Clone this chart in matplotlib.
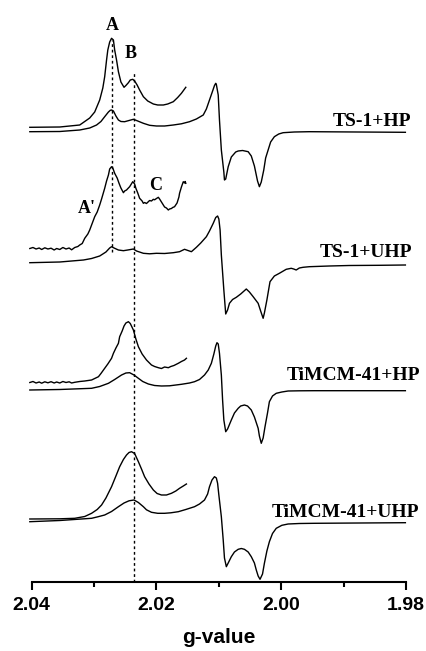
import matplotlib
matplotlib.use("Agg")
import matplotlib.pyplot as plt

# ---------------- data: g-values and signal (arb. units) ----------------
# TS-1 + HP
ts1_hp_g = [2.0403, 2.0355, 2.0323, 2.0307, 2.0296, 2.0289, 2.0283, 2.0277, 2.0274, 2.0272,
            2.0269, 2.0265, 2.0261, 2.0257, 2.0251, 2.0244, 2.0237, 2.0232, 2.0221, 2.0211,
            2.0200, 2.0187, 2.0173, 2.0160, 2.0147, 2.0136, 2.0125, 2.0120, 2.0115, 2.0110,
            2.0107, 2.0105, 2.0104, 2.0101, 2.0099, 2.0096, 2.0092, 2.0091, 2.0089, 2.0085,
            2.0080, 2.0073, 2.0069, 2.0062, 2.0053, 2.0048, 2.0043, 2.0038, 2.0035, 2.0032,
            2.0028, 2.0025, 2.0021, 2.0017, 2.0011, 2.0004, 1.9997, 1.9979, 1.9955, 1.9801]
ts1_hp_i = [0.3, 0.5, 2, 4, 7, 10.5, 15.3, 20, 21.7, 22,
            21, 16, 12, 10.5, 10.3, 11.5, 12.7, 11.5, 8.7, 6.7,
            6, 6, 7, 8.2, 10.3, 13, 17, 23, 32, 41,
            46.5, 48.7, 47.5, 37, 12, -18, -40, -48, -47, -34.7,
            -25, -20, -19, -18.5, -19.7, -24, -34, -49, -54.7, -50,
            -38, -26, -18, -10, -4.7, -2, -0.7, 0, 0.3, -0.3]
ts1_hp_zoom_g = [2.0403, 2.0355, 2.0323, 2.0307, 2.0299, 2.0291, 2.0286, 2.0283, 2.0280, 2.0278,
                 2.0275, 2.0272, 2.0269, 2.0267, 2.0264, 2.0261, 2.0257, 2.0252, 2.0249, 2.0245,
                 2.0242, 2.0238, 2.0235, 2.0231, 2.0227, 2.0221, 2.0214, 2.0205, 2.0198, 2.0189,
                 2.0182, 2.0173, 2.0166, 2.0160, 2.0153]
ts1_hp_zoom_i = [4.7, 5, 7, 14, 20, 32, 44, 55.3, 72, 82,
                 90, 93.7, 92, 82, 72, 60.3, 50, 44.7, 46.5, 49.3,
                 52, 52.7, 51, 47, 42, 35.3, 31, 28, 27, 27,
                 28, 30.3, 34.5, 38.7, 44.7]

# TS-1 + UHP
ts1_uhp_g = [2.0403, 2.0355, 2.0317, 2.0304, 2.0291, 2.0281, 2.0275, 2.0272, 2.0268, 2.0261,
             2.0253, 2.0246, 2.0237, 2.0232, 2.0221, 2.0211, 2.0200, 2.0187, 2.0173, 2.0163,
             2.0155, 2.0144, 2.0136, 2.0129, 2.0120, 2.0115, 2.0109, 2.0105, 2.0102, 2.0100,
             2.0098, 2.0096, 2.0092, 2.0089, 2.0086, 2.0083, 2.0078, 2.0072, 2.0065, 2.0056,
             2.0051, 2.0045, 2.0041, 2.0037, 2.0033, 2.0029, 2.0027, 2.0023, 2.0020, 2.0018,
             2.0011, 2.0003, 1.9992, 1.9984, 1.9980, 1.9976, 1.9971, 1.9965, 1.9955, 1.9923,
             1.9891, 1.9843, 1.9801]
ts1_uhp_i = [2.3, 3, 5, 6.5, 9, 13, 17, 18.3, 17, 15,
             14.3, 15, 16, 14, 11.7, 11.2, 11.7, 11.5, 12.3, 13.3,
             15.7, 13.3, 17.7, 22, 28.3, 34, 41.7, 47.5, 49, 46,
             35, 10, -25, -49, -45, -38.3, -34.5, -32.3, -29, -24,
             -27, -31.7, -35, -38.3, -46, -53.3, -48, -35, -24, -16.7,
             -11, -8.3, -4.3, -3.3, -4, -5, -3, -2.3, -1.7, -1,
             -0.5, -0.3, 0]
ts1_uhp_zoom_g = [2.0403, 2.0398, 2.0393, 2.0388, 2.0384, 2.0379, 2.0374, 2.0369, 2.0364, 2.0360,
                  2.0355, 2.0350, 2.0345, 2.0340, 2.0336, 2.0331, 2.0326, 2.0323, 2.0319, 2.0315,
                  2.0310, 2.0307, 2.0304, 2.0299, 2.0295, 2.0291, 2.0288, 2.0283, 2.0280, 2.0277,
                  2.0275, 2.0272, 2.0270, 2.0267, 2.0263, 2.0260, 2.0257, 2.0253, 2.0251, 2.0248,
                  2.0245, 2.0243, 2.0238, 2.0235, 2.0233, 2.0230, 2.0227, 2.0223, 2.0221, 2.0219,
                  2.0216, 2.0213, 2.0211, 2.0208, 2.0205, 2.0203, 2.0200, 2.0197, 2.0195, 2.0192,
                  2.0189, 2.0187, 2.0184, 2.0181, 2.0179, 2.0176, 2.0174, 2.0171, 2.0167, 2.0164,
                  2.0163, 2.0160, 2.0157, 2.0155, 2.0154, 2.0153]
ts1_uhp_zoom_i = [16.5, 17.5, 16, 17, 15.5, 17.2, 16, 16.8, 15, 16.5,
                  15.5, 17.5, 16, 17, 15.2, 17.5, 18.5, 20, 21.5, 26.7,
                  31, 35, 40, 48.3, 53, 60, 66, 76.7, 84, 90,
                  96, 98.3, 97, 91.7, 87, 81.7, 77, 72.3, 74, 75,
                  77, 78.3, 83.3, 81, 76.7, 72, 66.7, 64, 61.7, 62.5,
                  61.5, 63.3, 64.5, 64, 65.7, 65.2, 66.5, 67.7, 66, 63,
                  60, 58, 57, 55, 56, 56.5, 57.5, 58.3, 62, 68,
                  71.7, 78, 83.3, 82, 83.5, 81.7]

# TiMCM-41 + HP
mcm_hp_g = [2.0403, 2.0355, 2.0304, 2.0291, 2.0277, 2.0267, 2.0256, 2.0249, 2.0243, 2.0236,
            2.0229, 2.0222, 2.0213, 2.0203, 2.0192, 2.0179, 2.0160, 2.0147, 2.0139, 2.0131,
            2.0123, 2.0117, 2.0112, 2.0108, 2.0105, 2.0103, 2.0101, 2.0099, 2.0096, 2.0094,
            2.0092, 2.0089, 2.0086, 2.0080, 2.0075, 2.0069, 2.0065, 2.0059, 2.0054, 2.0048,
            2.0043, 2.0037, 2.0035, 2.0032, 2.0029, 2.0026, 2.0022, 2.0019, 2.0014, 2.0008,
            1.9999, 1.9989, 1.9971, 1.9947, 1.9801]
mcm_hp_i = [1, 1.5, 2.7, 4.5, 7.7, 11.5, 16, 18, 18.3, 16,
            12.7, 9.5, 7, 5.5, 5, 5.2, 6.7, 8, 9.3, 11.5,
            16, 21, 27.7, 37, 45, 48.3, 47, 37.7, 16, -9,
            -29, -40.7, -38, -29, -22, -17.3, -15, -14, -15, -19,
            -26, -37.3, -45, -52.3, -47, -35.7, -22, -10.7, -5, -2.3,
            -1, 0, 0.2, 0.3, 0.3]
mcm_hp_zoom_g = [2.0403, 2.0398, 2.0393, 2.0388, 2.0384, 2.0379, 2.0374, 2.0369, 2.0364, 2.0360,
                 2.0355, 2.0350, 2.0345, 2.0340, 2.0336, 2.0331, 2.0323, 2.0315, 2.0304, 2.0299,
                 2.0293, 2.0289, 2.0283, 2.0278, 2.0272, 2.0269, 2.0265, 2.0261, 2.0259, 2.0255,
                 2.0252, 2.0249, 2.0245, 2.0242, 2.0237, 2.0233, 2.0229, 2.0223, 2.0216, 2.0208,
                 2.0203, 2.0197, 2.0192, 2.0187, 2.0181, 2.0177, 2.0172, 2.0165, 2.0160, 2.0155,
                 2.0152]
mcm_hp_zoom_i = [8.5, 9.5, 8, 9, 7.8, 9.2, 8.2, 9.3, 8, 9,
                 8, 9.5, 8.5, 9.2, 8, 8.7, 9.5, 10, 11, 12.5,
                 14.3, 17.5, 22.7, 27, 32.7, 37.7, 43, 47.7, 54.3, 60,
                 65, 68, 69.3, 67.5, 61, 52, 44.3, 37, 31, 26,
                 24.5, 23.3, 22.5, 24, 23.3, 24.5, 25.5, 27.7, 29.5, 31,
                 32.7]

# TiMCM-41 + UHP
mcm_uhp_g = [2.0403, 2.0355, 2.0304, 2.0294, 2.0283, 2.0272, 2.0261, 2.0252, 2.0244, 2.0236,
             2.0229, 2.0221, 2.0216, 2.0208, 2.0198, 2.0187, 2.0177, 2.0165, 2.0153, 2.0139,
             2.0131, 2.0123, 2.0118, 2.0115, 2.0111, 2.0107, 2.0104, 2.0102, 2.0100, 2.0096,
             2.0093, 2.0091, 2.0088, 2.0085, 2.0080, 2.0075, 2.0069, 2.0064, 2.0059, 2.0053,
             2.0048, 2.0043, 2.0040, 2.0037, 2.0034, 2.0030, 2.0027, 2.0023, 2.0019, 2.0014,
             2.0008, 1.9999, 1.9989, 1.9971, 1.9947, 1.9801]
mcm_uhp_i = [1.3, 2.5, 4.7, 6.2, 8, 11.5, 16.3, 20, 22.2, 23,
             20.5, 16.3, 13.2, 10.7, 9.7, 9.7, 10.2, 11.3, 13.5, 16.3,
             19, 23, 29, 36.3, 43, 46.3, 45, 39.7, 28, 6.3,
             -17, -35, -43.7, -40, -33.7, -29, -26.3, -25.5, -26.3, -29,
             -33.7, -40, -47, -53, -56.3, -51, -40.3, -28, -18.7, -10.5,
             -5.3, -2.3, -1, -0.5, -0.3, 0.3]
mcm_uhp_zoom_g = [2.0403, 2.0355, 2.0331, 2.0315, 2.0304, 2.0295, 2.0288, 2.0281, 2.0272, 2.0265,
                  2.0259, 2.0253, 2.0248, 2.0244, 2.0240, 2.0235, 2.0229, 2.0224, 2.0219, 2.0212,
                  2.0205, 2.0199, 2.0192, 2.0184, 2.0176, 2.0169, 2.0163, 2.0157, 2.0152]
mcm_uhp_zoom_i = [4, 4.2, 4.7, 6.5, 9.7, 13.5, 18, 25, 36.3, 47,
                  56.3, 63.5, 68, 70.5, 71.3, 69.5, 61.3, 54, 46.3, 39,
                  33, 29.5, 28, 28, 29.7, 32, 34.7, 37, 39]

sample_names = ["TS-1+HP", "TS-1+UHP", "TiMCM-41+HP", "TiMCM-41+UHP"]
offsets = [450, 317, 191, 59]
label_pos = [(1.9918, 456), (1.9938, 325.3), (1.9992, 202), (2.0016, 64.7)]

peak_names = ["A", "B"]
peak_g = [2.0272, 2.0236]
peak_span = [(330, 542), (0, 509)]

# ---------------- figure ----------------
fig = plt.figure(figsize=(4.27, 6.51), dpi=100)
ax = fig.add_axes([31.7 / 427, 69 / 651, (406 - 31.7) / 427, 582 / 651])

spectra = [
    (ts1_hp_g, ts1_hp_i, ts1_hp_zoom_g, ts1_hp_zoom_i),
    (ts1_uhp_g, ts1_uhp_i, ts1_uhp_zoom_g, ts1_uhp_zoom_i),
    (mcm_hp_g, mcm_hp_i, mcm_hp_zoom_g, mcm_hp_zoom_i),
    (mcm_uhp_g, mcm_uhp_i, mcm_uhp_zoom_g, mcm_uhp_zoom_i),
]

for (g, i, gz, iz), off in zip(spectra, offsets):
    ax.plot(g, [v + off for v in i], color="black", lw=1.0, clip_on=False)
    ax.plot(gz, [v + off for v in iz], color="black", lw=1.0, clip_on=False)

for name, (gx, yy) in zip(sample_names, label_pos):
    ax.text(gx, yy, name, fontsize=14, fontweight="bold", family="Liberation Serif",
            ha="left", va="baseline")

# dotted guides through peaks A and B
for pg, (y0, y1) in zip(peak_g, peak_span):
    ax.plot([pg, pg], [y0, y1], color="black", lw=1.0, ls=(0, (2, 2)))

serif = dict(fontsize=13, fontweight="bold", family="Liberation Serif", ha="center", va="baseline")
ax.text(2.0270, 552, "A", **serif)
ax.text(2.0241, 523.7, "B", **serif)
ax.text(2.0312, 369, "A'", **serif)
ax.text(2.0201, 392, "C", **serif)

ax.set_xlim(2.04, 1.98)
ax.set_ylim(0, 582)
ax.set_xticks([2.04, 2.02, 2.00, 1.98])
ax.set_xticks([2.03, 2.01, 1.99], minor=True)
ax.set_xticklabels(["2.04", "2.02", "2.00", "1.98"])
ax.set_yticks([])
for s in ["left", "right", "top"]:
    ax.spines[s].set_visible(False)
ax.spines["bottom"].set_linewidth(1.5)
ax.tick_params(axis="x", which="major", length=6, width=1.5, pad=5, labelsize=14, direction="out")
ax.tick_params(axis="x", which="minor", length=3.5, width=1.5, direction="out")
for lbl in ax.get_xticklabels():
    lbl.set_fontweight("bold")
    lbl.set_family("Liberation Sans")
ax.set_xlabel("g-value", fontsize=15, fontweight="bold", family="Liberation Sans", labelpad=10)
ax.patch.set_alpha(0)

fig.savefig("out.png", dpi=100)
